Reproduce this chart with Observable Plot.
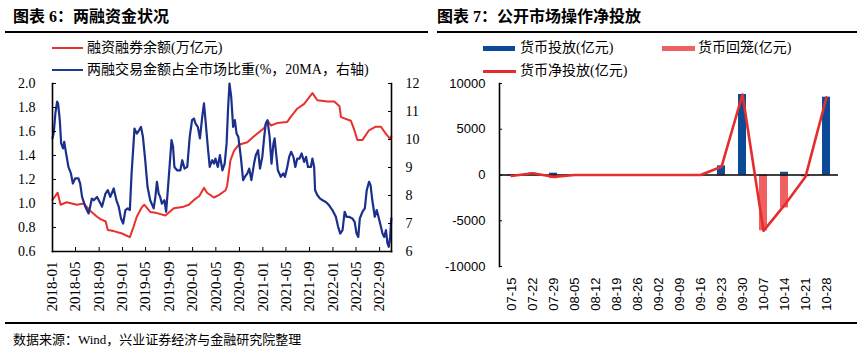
<!DOCTYPE html>
<html><head><meta charset="utf-8">
<script src="https://cdn.jsdelivr.net/npm/d3@7/dist/d3.min.js"></script>
<script src="https://cdn.jsdelivr.net/npm/@observablehq/plot@0.6/dist/plot.umd.min.js"></script>
<style>
body{margin:0;background:#fff;}
#wrap{position:relative;width:866px;height:353px;overflow:hidden;background:#fff;font-family:"Liberation Serif","Noto Sans CJK SC",serif;color:#000;}
.abs{position:absolute;white-space:nowrap;}
.title{font-weight:bold;font-size:16px;line-height:16px;}
.leg{font-size:14px;line-height:14px;}
.rule{background:#000;height:1.5px;}
</style></head>
<body><div id="wrap">
<div class="abs title" style="left:13px;top:9px;">图表 6：两融资金状况</div>
<div class="abs title" style="left:437px;top:9px;">图表 7：公开市场操作净投放</div>
<div class="abs rule" style="left:5px;top:31px;width:423px;"></div>
<div class="abs rule" style="left:437px;top:31px;width:420px;"></div>
<div class="abs rule" style="left:5px;top:322px;width:852px;"></div>
<div class="abs" style="left:52px;top:47px;width:31px;height:2px;background:#e8302c;"></div>
<div class="abs leg" style="left:87px;top:41px;" id="lg1"></div>
<div class="abs" style="left:52px;top:69px;width:31px;height:2px;background:#1f3a93;"></div>
<div class="abs leg" style="left:87px;top:63px;" id="lg2"></div>
<div class="abs" style="left:483px;top:46px;width:32px;height:5px;background:#0b4a96;"></div>
<div class="abs leg" style="left:520px;top:41px;" id="lg3"></div>
<div class="abs" style="left:662px;top:46px;width:33px;height:5px;background:#ef6060;"></div>
<div class="abs leg" style="left:698px;top:41px;" id="lg4"></div>
<div class="abs" style="left:483px;top:70px;width:33px;height:2.5px;background:#e52d2d;"></div>
<div class="abs leg" style="left:520px;top:64px;" id="lg5"></div>
<div class="abs" style="left:13px;top:333px;font-size:13px;line-height:14px;">数据来源：Wind，兴业证券经济与金融研究院整理</div>
<div id="leftChart" class="abs" style="left:0;top:75px;"></div>
<div id="rightChart" class="abs" style="left:430px;top:75px;"></div>
<div id="err" class="abs" style="left:100px;top:150px;color:red;font-size:11px;white-space:pre-wrap;width:700px;"></div>
</div>
<script>
// ---------- Left chart data ----------
const seriesNames = ["融资融券余额(万亿元)", "两融交易金额占全市场比重(%，20MA，右轴)"];
const marginDates = ["2018-01-01","2018-01-28","2018-02-12","2018-03-16","2018-05-08","2018-06-12","2018-07-16","2018-08-21","2018-09-08","2018-10-05","2018-10-16","2018-11-16","2018-12-29","2019-02-08","2019-02-28","2019-03-16","2019-04-12","2019-04-24","2019-05-25","2019-06-29","2019-08-12","2019-09-25","2019-11-08","2019-12-12","2020-01-08","2020-02-04","2020-02-29","2020-03-16","2020-04-21","2020-05-16","2020-06-21","2020-06-29","2020-07-16","2020-08-04","2020-08-29","2020-10-12","2020-11-16","2021-01-08","2021-01-25","2021-02-12","2021-03-16","2021-05-08","2021-05-25","2021-06-29","2021-08-04","2021-09-16","2021-10-12","2021-12-04","2022-01-08","2022-02-04","2022-02-12","2022-04-04","2022-04-21","2022-05-08","2022-06-04","2022-07-08","2022-08-12","2022-09-08","2022-10-04","2022-10-25","2022-11-01"];
const marginBalance = [1.03,1.09,0.99,1.01,0.99,1.00,0.94,0.89,0.87,0.85,0.78,0.77,0.75,0.72,0.81,0.89,0.97,0.99,0.93,0.92,0.90,0.96,0.97,0.99,1.03,1.06,1.13,1.09,1.05,1.07,1.11,1.15,1.36,1.44,1.49,1.51,1.56,1.63,1.69,1.65,1.67,1.68,1.72,1.79,1.83,1.92,1.86,1.85,1.85,1.81,1.72,1.69,1.62,1.53,1.53,1.61,1.64,1.64,1.58,1.54,1.56];
const shareDates = ["2018-01-01","2018-01-08","2018-01-16","2018-01-25","2018-01-30","2018-02-08","2018-02-15","2018-02-25","2018-03-03","2018-03-10","2018-03-16","2018-03-25","2018-04-07","2018-04-17","2018-04-29","2018-05-16","2018-05-25","2018-06-04","2018-06-21","2018-07-08","2018-07-16","2018-07-25","2018-08-04","2018-08-21","2018-09-08","2018-09-16","2018-10-04","2018-10-16","2018-10-29","2018-11-16","2018-11-30","2018-12-12","2018-12-24","2019-01-04","2019-01-16","2019-01-28","2019-02-08","2019-02-17","2019-02-25","2019-03-04","2019-03-16","2019-03-28","2019-04-07","2019-04-17","2019-04-29","2019-05-11","2019-05-25","2019-06-12","2019-06-21","2019-06-29","2019-07-08","2019-07-16","2019-07-25","2019-08-07","2019-08-16","2019-08-26","2019-09-04","2019-09-13","2019-09-21","2019-09-28","2019-10-12","2019-10-29","2019-11-08","2019-11-20","2019-12-04","2019-12-17","2019-12-29","2020-01-08","2020-01-16","2020-01-28","2020-02-08","2020-02-20","2020-02-29","2020-03-08","2020-03-20","2020-03-30","2020-04-12","2020-04-21","2020-04-29","2020-05-11","2020-05-22","2020-06-04","2020-06-16","2020-06-26","2020-07-04","2020-07-11","2020-07-20","2020-07-30","2020-08-08","2020-08-17","2020-08-26","2020-09-08","2020-09-20","2020-09-30","2020-10-12","2020-10-22","2020-11-02","2020-11-16","2020-11-25","2020-12-07","2020-12-17","2020-12-29","2021-01-08","2021-01-16","2021-01-25","2021-02-05","2021-02-15","2021-02-25","2021-03-03","2021-03-11","2021-03-20","2021-04-04","2021-04-17","2021-04-26","2021-05-08","2021-05-18","2021-05-28","2021-06-09","2021-06-19","2021-06-29","2021-07-11","2021-07-22","2021-08-04","2021-08-14","2021-08-24","2021-09-08","2021-09-16","2021-09-25","2021-09-30","2021-10-12","2021-10-26","2021-11-08","2021-11-25","2021-12-12","2021-12-29","2022-01-16","2022-01-28","2022-02-08","2022-02-20","2022-03-03","2022-03-13","2022-03-25","2022-04-12","2022-04-24","2022-05-04","2022-05-13","2022-05-21","2022-06-04","2022-06-16","2022-06-26","2022-07-08","2022-07-16","2022-07-25","2022-08-07","2022-08-17","2022-08-26","2022-09-08","2022-09-16","2022-09-25","2022-10-04","2022-10-12","2022-10-19","2022-10-26","2022-11-01"];
const tradeShare = [10.04,10.27,10.93,11.35,11.29,10.69,9.86,9.68,9.92,9.62,9.38,9.02,8.79,8.43,8.61,8.61,8.43,7.95,7.6,7.36,7.6,7.89,7.83,7.95,7.71,7.6,8.07,8.19,7.95,8.25,7.83,7.6,7.18,7.0,7.48,7.54,7.48,8.79,9.62,10.39,10.21,10.33,10.45,10.1,9.26,8.31,7.83,7.54,7.95,8.49,8.07,7.95,7.71,7.83,7.42,8.31,9.14,9.98,9.74,9.02,8.9,8.9,9.26,8.96,9.02,10.1,10.69,10.75,10.57,10.45,10.04,10.81,11.29,10.69,9.74,9.02,9.26,9.14,9.32,9.02,9.44,8.9,9.14,9.86,11.17,12.0,11.52,10.45,10.69,10.21,10.1,9.38,8.55,8.67,8.79,8.96,8.55,9.14,9.44,9.62,8.96,9.38,10.1,10.57,10.69,10.1,9.14,9.86,10.04,9.5,8.9,8.67,8.79,8.67,9.02,9.38,9.56,9.38,9.02,9.32,9.32,9.5,9.2,9.38,9.02,9.02,9.32,9.02,8.19,8.01,7.89,7.83,7.77,7.65,7.48,7.24,6.88,6.64,6.76,7.42,7.24,7.24,7.18,7.06,6.64,6.52,7.18,7.42,7.54,8.19,8.49,8.37,7.83,7.24,7.48,7.24,6.88,6.64,6.52,6.76,6.29,6.17,6.52,7.18];
const leftTicks = [0.6,0.8,1.0,1.2,1.4,1.6,1.8,2.0];
const rightTicks = [6,7,8,9,10,11,12];
const dateTicks = ["2018-01","2018-05","2018-09","2019-01","2019-05","2019-09","2020-01","2020-05","2020-09","2021-01","2021-05","2021-09","2022-01","2022-05","2022-09"];
const dateDomain = ["2018-01-01","2022-11-02"];

// ---------- Right chart data ----------
const weeks = ["07-15","07-22","07-29","08-05","08-12","08-19","08-26","09-02","09-09","09-16","09-23","09-30","10-07","10-14","10-21","10-28"];
const injection = [0,200,200,0,0,0,0,0,0,0,1000,8800,0,300,0,8500];
const withdrawal = [-100,0,-400,0,0,0,0,0,0,0,-100,0,-6100,-3600,-200,0];
const netInjection = [-100,200,-200,0,0,0,0,0,0,0,900,8800,-6100,-3300,-200,8500];
const rightLegend = ["货币投放(亿元)","货币回笼(亿元)","货币净投放(亿元)"];
const yTicksRight = [-10000,-5000,0,5000,10000];

document.getElementById("lg1").textContent = seriesNames[0];
document.getElementById("lg2").textContent = seriesNames[1];
document.getElementById("lg3").textContent = rightLegend[0];
document.getElementById("lg4").textContent = rightLegend[1];
document.getElementById("lg5").textContent = rightLegend[2];

try {
// ---------- Left chart ----------
const parse = d3.utcParse("%Y-%m-%d");
const parseM = d3.utcParse("%Y-%m");
const L0 = leftTicks[0], L1 = leftTicks[leftTicks.length-1];
const R0 = rightTicks[0], R1 = rightTicks[rightTicks.length-1];
const toLeft = v => L0 + (v - R0) * (L1 - L0) / (R1 - R0);
const fromLeft = v => R0 + (v - L0) * (R1 - R0) / (L1 - L0);
const redData = marginDates.map((d,i) => ({date: parse(d), v: marginBalance[i]}));
const blueData = shareDates.map((d,i) => ({date: parse(d), v: toLeft(tradeShare[i])}));
const xd = dateDomain.map(parse);
const serif = "Liberation Serif, Times New Roman, serif";

const left = Plot.plot({
  width: 430, height: 245,
  marginTop: 8, marginBottom: 69, marginLeft: 52, marginRight: 39,
  style: {fontFamily: serif, fontSize: "14px", background: "transparent", color: "#000"},
  x: {type: "utc", domain: xd, label: null},
  y: {domain: [L0, L1], label: null},
  marks: [
    Plot.line(redData, {x: "date", y: "v", stroke: "#e8302c", strokeWidth: 2}),
    Plot.line(blueData, {x: "date", y: "v", stroke: "#1b2f8c", strokeWidth: 2.2}),
    Plot.frame({anchor: "left", stroke: "#000", strokeWidth: 1.6}),
    Plot.frame({anchor: "right", stroke: "#000", strokeWidth: 1.6}),
    Plot.frame({anchor: "bottom", stroke: "#000", strokeWidth: 1.6}),
    Plot.axisY(leftTicks, {anchor: "left", label: null, tickSize: 0, tickPadding: 17, tickFormat: d3.format(".1f")}),
    Plot.axisY(leftTicks, {anchor: "left", label: null, tickSize: -4, tickFormat: () => ""}),
    Plot.axisY(rightTicks.map(toLeft), {anchor: "right", label: null, tickSize: 0, tickPadding: 14, tickFormat: d => String(Math.round(fromLeft(d)))}),
    Plot.axisY(rightTicks.map(toLeft), {anchor: "right", label: null, tickSize: -4, tickFormat: () => ""}),
    Plot.axisX(dateTicks.map(parseM), {anchor: "bottom", label: null, tickSize: 0, tickPadding: 10, tickRotate: -90, tickFormat: d3.utcFormat("%Y-%m"), fontSize: 15}),
    Plot.axisX(dateTicks.map(parseM), {anchor: "bottom", label: null, tickSize: -4, tickFormat: () => ""})
  ]
});
document.getElementById("leftChart").appendChild(left);

// ---------- Right chart ----------
const rows = weeks.map((w,i) => ({week: w, inj: injection[i], wd: withdrawal[i], net: netInjection[i]}));
const sans = "Liberation Sans, Arial, sans-serif";
const right = Plot.plot({
  width: 436, height: 245,
  marginTop: 8, marginBottom: 54, marginLeft: 69, marginRight: 28,
  style: {fontFamily: sans, fontSize: "13px", background: "transparent", color: "#000"},
  x: {type: "band", domain: weeks, paddingInner: 0.62, paddingOuter: 0.31, label: null},
  y: {domain: [-10000, 10000], label: null},
  marks: [
    Plot.barY(rows, {x: "week", y: "inj", fill: "#0b4a96"}),
    Plot.barY(rows, {x: "week", y: "wd", fill: "#ef6060"}),
    Plot.ruleY([0], {stroke: "#000", strokeWidth: 1.6}),
    Plot.line(rows, {x: "week", y: "net", stroke: "#e52d2d", strokeWidth: 2.6}),
    Plot.frame({anchor: "left", stroke: "#000", strokeWidth: 1.6}),
    Plot.axisY(yTicksRight, {anchor: "left", label: null, tickSize: 0, tickPadding: 14, tickFormat: d => String(d)}),
    Plot.axisY(yTicksRight, {anchor: "left", label: null, tickSize: -3, tickFormat: () => ""}),
    Plot.axisX(weeks, {anchor: "bottom", label: null, tickSize: 0, tickPadding: 11, tickRotate: -90})
  ]
});
document.getElementById("rightChart").appendChild(right);
} catch (e) {
  document.getElementById("err").textContent = String(e && e.stack || e);
}
</script>
</body></html>
